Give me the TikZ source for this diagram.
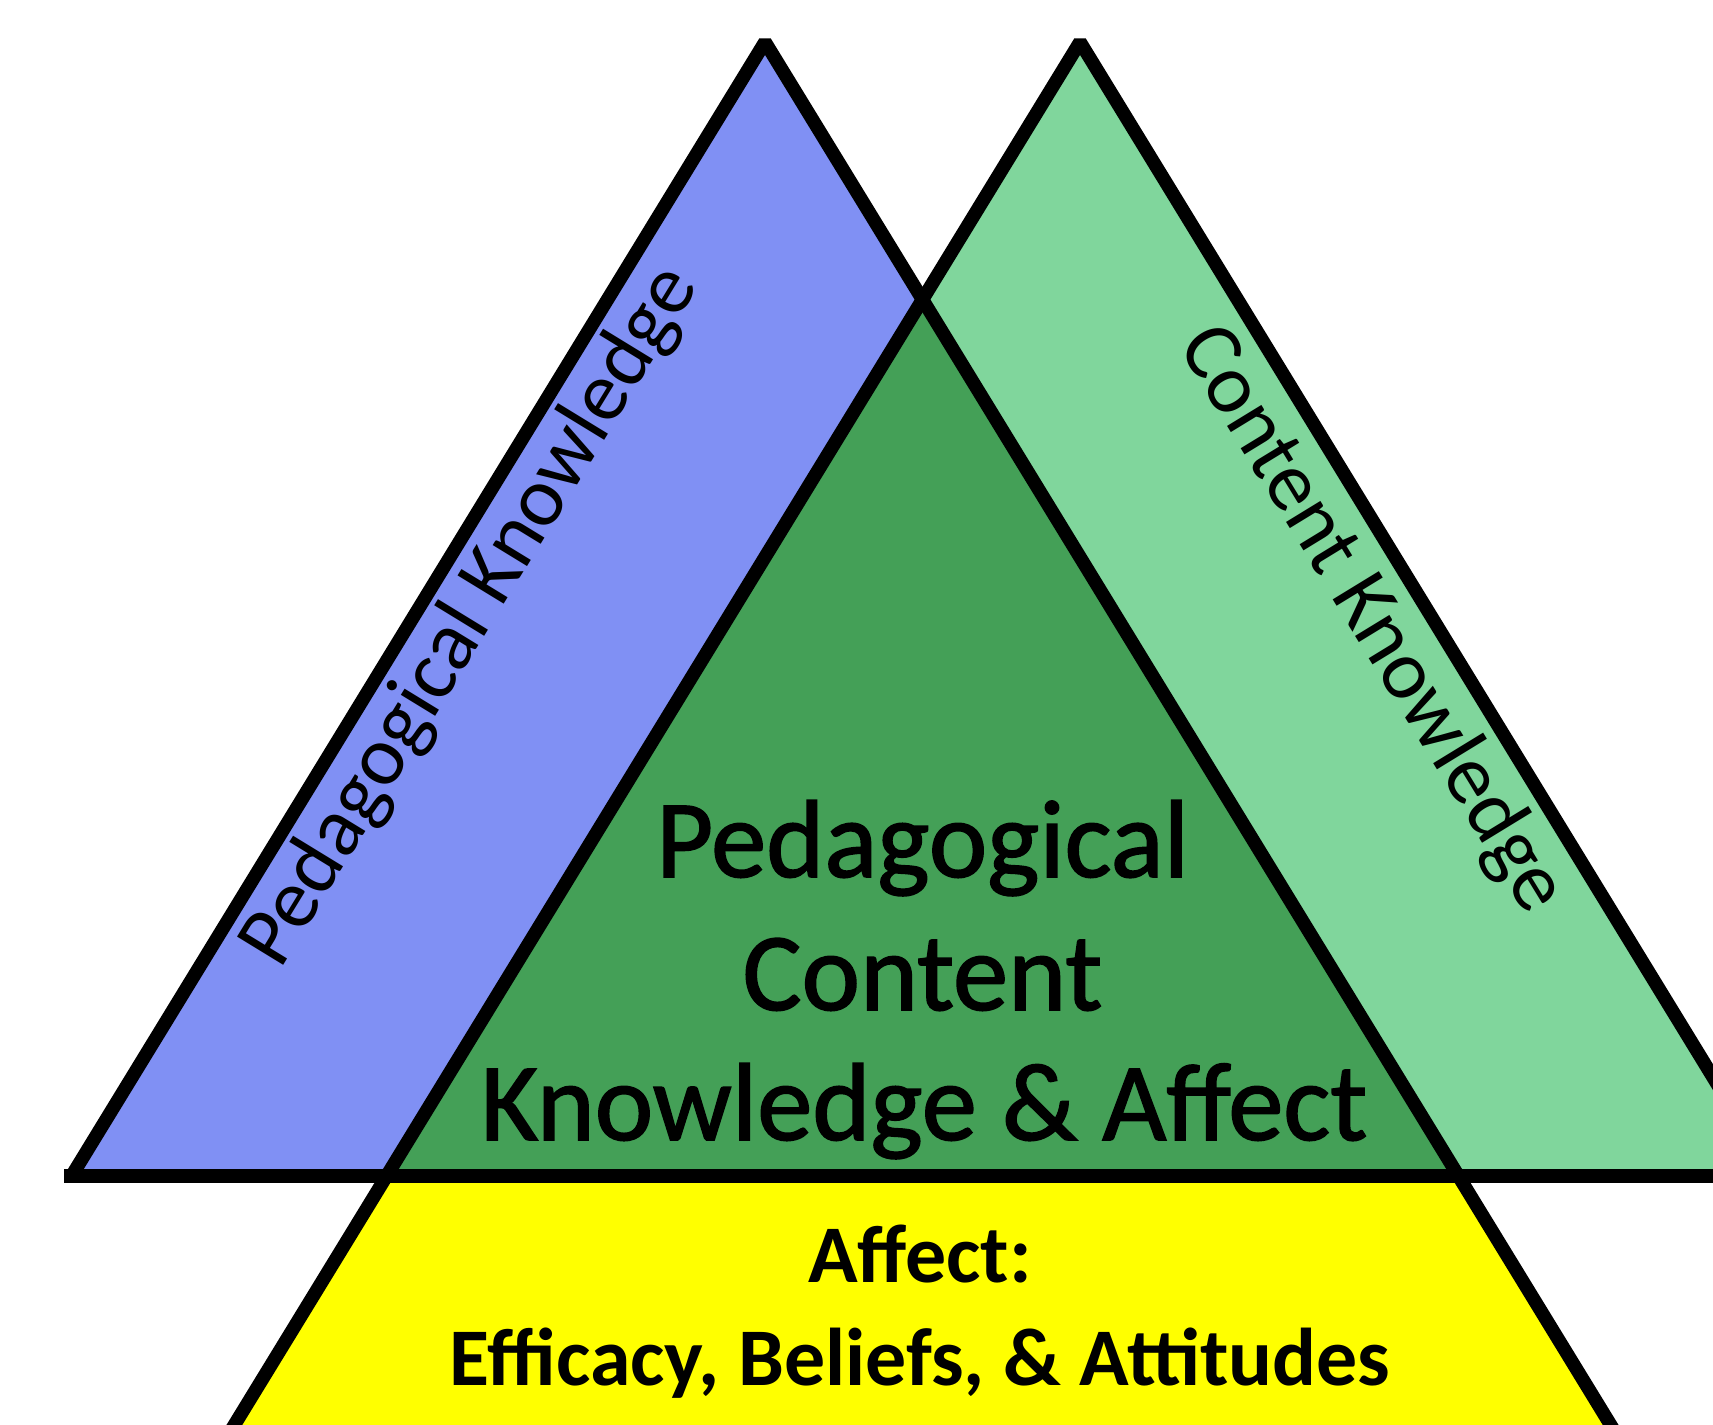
\documentclass[tikz,border=0pt]{standalone}
\usepackage{fontspec}
\setmainfont{Carlito}
\newfontfamily\pckfont[FakeBold=1.4]{Carlito}
\usetikzlibrary{calc}
\definecolor{pkblue}{HTML}{8090F4}
\definecolor{ckgreen}{HTML}{80D69C}
\definecolor{pckgreen}{HTML}{44A057}
\definecolor{affyellow}{HTML}{FFFF00}
\tikzset{
  edge/.style={draw=black, line width=0.135cm, line join=bevel},
  sidelabel/.style={font=\fontsize{24}{28}\selectfont, inner sep=0pt, anchor=base},
  pcklabel/.style={font=\pckfont\fontsize{31.5}{37.4}\selectfont, inner sep=0pt, anchor=base},
  affectlabel/.style={font=\bfseries\fontsize{23.3}{28}\selectfont, inner sep=0pt, anchor=base},
}

\begin{document}
\begin{tikzpicture}
\clip (0,0) rectangle (17.13,14.24);
\fill[white] (0,0) rectangle (17.13,14.24);
% corners of the two big triangles
\coordinate (pa) at (7.65,13.82);
\coordinate (pbl) at (0.716,2.48);
\coordinate (pbr) at (14.584,2.48);
\coordinate (ca) at (10.80,13.82);
\coordinate (cbl) at (3.866,2.48);
\coordinate (cbr) at (17.734,2.48);
% inner sides cross here, and run on below the base
\coordinate (apex) at (intersection of pa--pbr and ca--cbl);
\coordinate (pend) at ($(pa)!1.3!(pbr)$);
\coordinate (cend) at ($(ca)!1.3!(cbl)$);

% fills
\fill[pkblue] (pa) -- (pbl) -- (pbr) -- cycle;
\fill[ckgreen] (ca) -- (cbl) -- (cbr) -- cycle;
\fill[pckgreen] (apex) -- (cbl) -- (pbr) -- cycle;
\fill[affyellow] (cbl) -- (pbr) -- (pend) -- (cend) -- cycle;

% outlines
\draw[edge] (pbl) -- (pa) -- (pend);
\draw[edge] (cend) -- (ca) -- (cbr);
\draw[edge] (0.64,2.48) -- (17.5,2.48);

% labels
\node[sidelabel, rotate=58.55] (pklabel) at (4.896,7.956) {Pedagogical Knowledge};
\node[sidelabel, rotate=-58.55] (cklabel) at (13.525,7.927) {Content Knowledge};
\node[pcklabel] (pcktop) at (9.225,5.47) {Pedagogical};
\node[pcklabel] (pckmid) at (9.225,4.14) {Content};
\node[pcklabel] (pckbot) at (9.24,2.84) {Knowledge \& Affect};
\node[affectlabel] (afftop) at (9.2,1.41) {Affect:};
\node[affectlabel] (affbot) at (9.2,0.39) {Efficacy, Beliefs, \& Attitudes};
\end{tikzpicture}
\end{document}
